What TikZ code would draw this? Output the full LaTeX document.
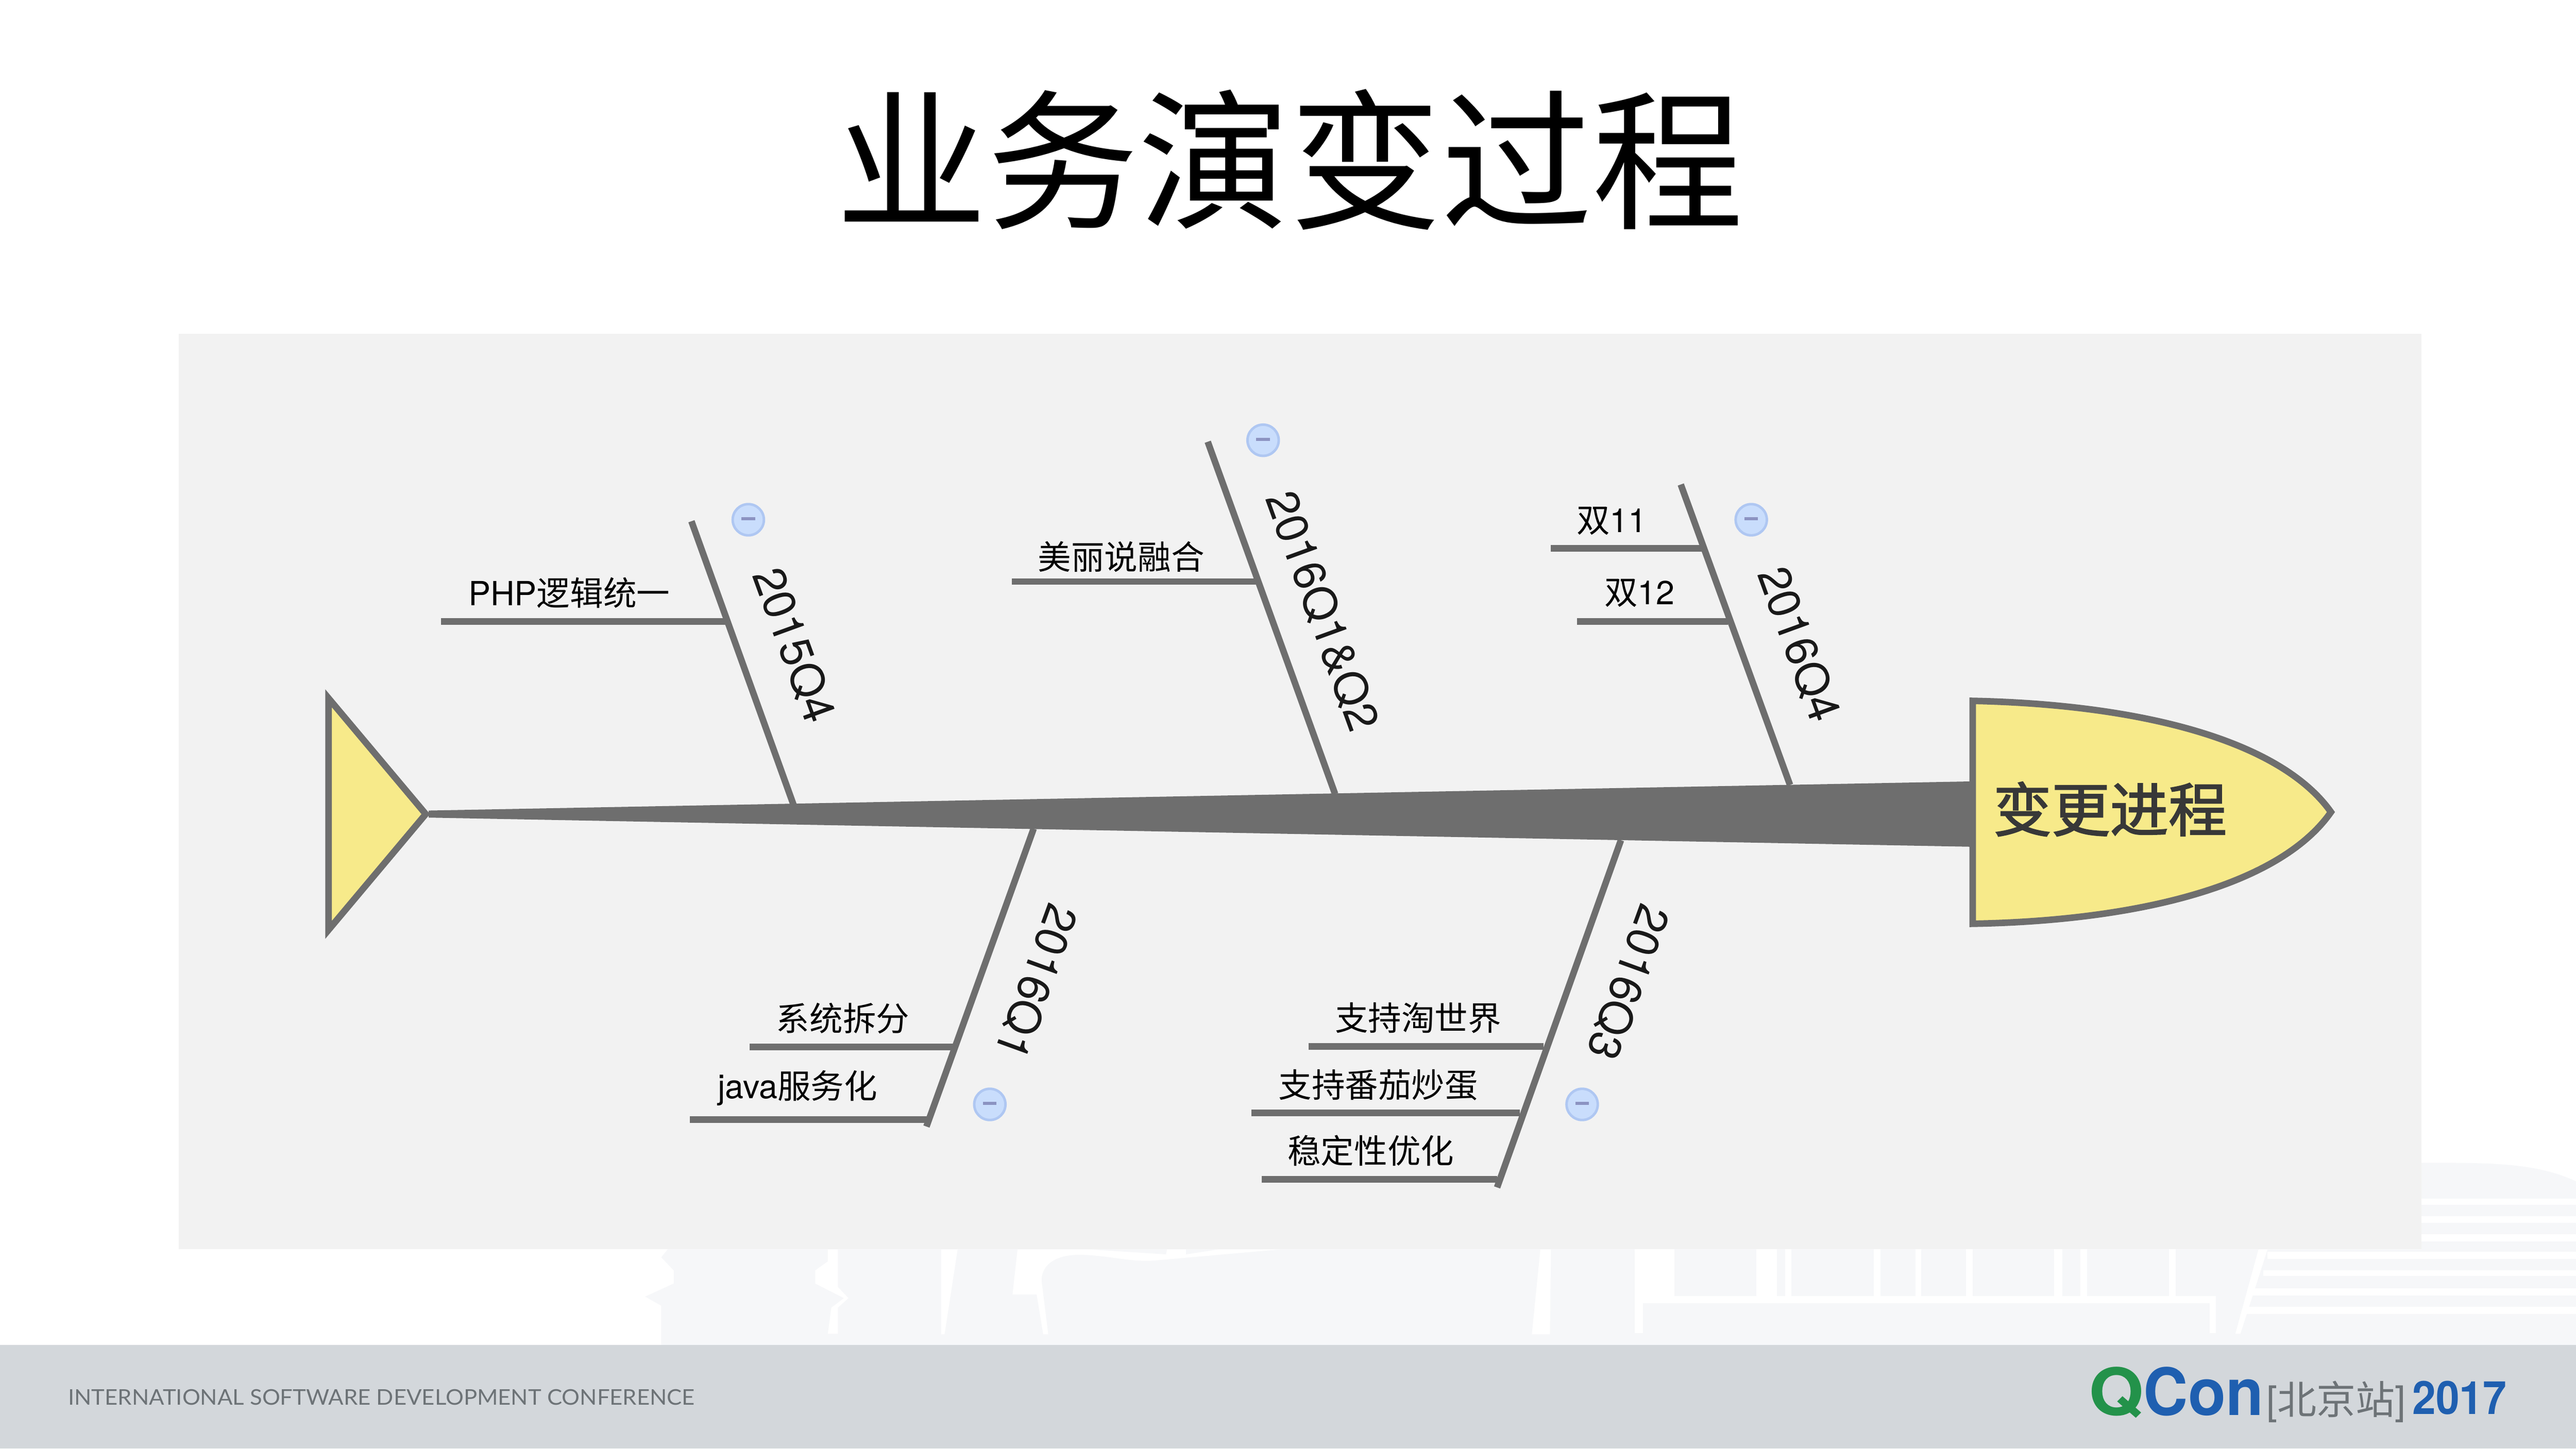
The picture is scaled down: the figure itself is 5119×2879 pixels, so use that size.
\documentclass[tikz,border=0pt]{standalone}
\usepackage{fontspec}
\setmainfont{TeX Gyre Heros}
\newfontfamily\cjk{Noto Sans CJK SC}
\newfontfamily\cjkmid[FakeBold=2]{Noto Sans CJK SC}
\newfontfamily\footfont{Lato}
\definecolor{panelgray}{HTML}{F2F2F2}
\definecolor{bonegray}{HTML}{6E6E6E}
\definecolor{fishyellow}{HTML}{F7EA8A}
\definecolor{faintgray}{HTML}{F6F7F9}
\definecolor{footgray}{HTML}{D3D7DB}
\definecolor{foottext}{HTML}{6D7377}
\definecolor{btnfill}{HTML}{C9DDFC}
\definecolor{btnline}{HTML}{AFC7F2}
\definecolor{btnminus}{HTML}{8C93C2}
\definecolor{qgreen}{HTML}{23924A}
\definecolor{conblue}{HTML}{1F5FB0}
\begin{document}
\begin{tikzpicture}
[x=0.01cm,y=-0.01cm,
  bonedecorate/.style={-,bonegray,line width=0.13cm},%
  twigdecorate/.style={-,bonegray,line width=0.13cm},%
  fishdecorate/.style={draw=bonegray,fill=fishyellow,line width=0.13cm,miter limit=10},%
  twiglabel/.style={inner sep=0pt,font=\fontsize{18.8}{20}\selectfont},%
  yearlabel/.style={inner sep=0pt,text=black!90,font=\fontsize{25.5}{28}\selectfont},%
  buttondecorate/.style={shape=circle,draw=btnline,fill=btnfill,line width=0.05cm,
    minimum size=0.62cm,inner sep=0pt},%
  logotext/.style={inner sep=0pt,anchor=base west}]
\useasboundingbox (0,0) rectangle (5119,2879);
%% backdrop behind the panel
\fill[white] (0,0) rectangle (5119,2879);
\fill[faintgray] (1327,2483) -- (1314,2499) -- (1339,2525) -- (1339,2551) -- (1282,2577)
  -- (1314,2595) -- (1314,2673) -- (5119,2673) -- (5119,2348)
  .. controls (5040,2311) and (4950,2311) .. (4812,2311) -- (4812,2483) -- cycle;
\fill[white] (1645,2483) -- (1665,2483) -- (1665,2558) -- (1686,2580) -- (1665,2599)
  -- (1665,2651) -- (1645,2651) -- (1652,2599) -- (1677,2580) -- (1620,2551)
  -- (1620,2525) -- (1645,2507) -- cycle;
\fill[white] (1870,2483) -- (1903,2483) -- (1877,2652) -- (1870,2652) -- cycle;
\fill[white] (2022,2483) -- (2012,2573) -- (2060,2573) -- (2073,2652) -- (2083,2652)
  -- (2070,2547) .. controls (2068,2520) and (2090,2494) .. (2144,2494)
  .. controls (2200,2494) and (2250,2510) .. (2297,2505) -- (2546,2483) -- cycle;
\fill[faintgray] (2163,2483) -- (2317,2493) -- (2319,2483) -- cycle;
\fill[faintgray] (2357,2483) -- (2357,2493) -- (2422,2483) -- cycle;
\fill[white] (3061,2483) -- (3082,2483) -- (3080,2652) -- (3044,2652) -- cycle;
\fill[white] (4488,2483) -- (4506,2483) -- (4452,2651) -- (4442,2651) -- cycle;
\fill[white] (3248,2483) rectangle (3265,2650);
\fill[white] (3248,2576) rectangle (4403,2590);
\fill[white] (4391,2576) rectangle (4403,2650);
\foreach \xa/\xb in {3248/3327, 3490/3531, 3547/3560, 3724/3737, 3806/3818,
  3907/3920, 4082/4098, 4134/4147, 4310/4323} {
  \fill[white] (\xa,2483) rectangle (\xb,2576);
}
\foreach \xa/\ya/\yb in {4506/2488/2502, 4497/2525/2536, 4475/2560/2575, 4465/2597/2612,
  4812/2382/2395, 4812/2417/2430, 4812/2453/2467} {
  \fill[white] (\xa,\ya) rectangle (5119,\yb);
}
\fill[panelgray] (355,663) rectangle (4812,2483);
\fill[footgray] (0,2673) rectangle (5119,2879);
%% title and footer
\node (title) at (2563,317) {\cjk\fontsize{85.5}{90}\selectfont 业务演变过程};
\node (slogan) at (758,2777) [inner sep=0pt,text=foottext]
  {\resizebox{12.44cm}{0.31cm}{\footfont INTERNATIONAL SOFTWARE DEVELOPMENT CONFERENCE}};
\node (logoq) at (4150,2813) [logotext,text=qgreen]
  {\resizebox{1.09cm}{0.96cm}{\bfseries Q}};
\node (logocon) at (4259,2813) [logotext,text=conblue]
  {\resizebox{2.38cm}{0.96cm}{\bfseries Con}};
\node (logocity) at (4503,2811) [logotext,text=foottext]
  {\resizebox{2.77cm}{!}{[{\cjk 北京站}]}};
\node (logoyear) at (4793,2811) [logotext,text=conblue]
  {\resizebox{1.87cm}{0.66cm}{\bfseries 2017}};
%% fish body
\coordinate (tailtop) at (653,1388);
\coordinate (tailtip) at (846,1618);
\coordinate (tailbot) at (653,1848);
\coordinate (spinestarta) at (852,1611);
\coordinate (spinestartb) at (852,1625);
\coordinate (spinetop) at (3920,1553);
\coordinate (spinebot) at (3920,1683);
\coordinate (headtop) at (3920,1393);
\coordinate (headtip) at (4632,1614);
\coordinate (headbot) at (3920,1836);
\fill[bonegray] (spinestarta) -- (spinetop) -- (spinebot) -- (spinestartb) -- cycle;
%% big bones, with year label and fold button
\foreach \nodename/\xa/\ya/\xb/\yb/\xlab/\ylab/\turn/\labeltext/\xbtn/\ybtn in {
  qa/1374/1036/1577/1600/1578/1282/-70/2015Q4/1487/1033,
  qb/2400/878/2653/1578/2628/1214/-70/2016Q1\&Q2/2510/875,
  qc/3340/963/3557/1560/3575/1280/-70/2016Q4/3480/1033,
  qd/2054/1647/1841/2239/2060/1952/-110/2016Q1/1967/2195,
  qe/3221/1670/2975/2360/3236/1953/-110/2016Q3/3144/2195} {
  \coordinate (\nodename top) at (\xa,\ya);
  \coordinate (\nodename foot) at (\xb,\yb);
  \node (\nodename label) at (\xlab,\ylab) [yearlabel,rotate=\turn] {\labeltext};
  \node (\nodename btn) at (\xbtn,\ybtn) [buttondecorate]
    {\textcolor{btnminus}{\rule[0.22ex]{0.27cm}{0.06cm}}};
}
\path
\foreach \startnode/\endnode in {qatop/qafoot, qbtop/qbfoot, qctop/qcfoot, qdtop/qdfoot, qetop/qefoot} {
  (\startnode) edge[bonedecorate] (\endnode)
};
%% small bones and their texts
\foreach \nodename/\xa/\xb/\y/\xlab/\ylab/\labeltext in {
  php/876/1441/1235/1131/1178/PHP{\cjk 逻辑统一},
  meili/2011/2496/1156/2228/1107/{\cjk 美丽说融合},
  eleven/3082/3383/1090/3203/1035/{\cjk 双}11,
  twelve/3134/3434/1235/3258/1179/{\cjk 双}12,
  split/1490/1897/2081/1675/2024/{\cjk 系统拆分},
  java/1371/1845/2225/1585/2163/java{\cjk 服务化},
  taoworld/2600/3067/2080/2818/2023/{\cjk 支持淘世界},
  fanqie/2487/3020/2212/2739/2156/{\cjk 支持番茄炒蛋},
  stable/2507/2975/2344/2724/2287/{\cjk 稳定性优化}} {
  \coordinate (\nodename left) at (\xa,\y);
  \coordinate (\nodename right) at (\xb,\y);
  \draw[twigdecorate] (\nodename left) -- (\nodename right);
  \node (\nodename) at (\xlab,\ylab) [twiglabel] {\labeltext};
}
%% tail and head
\draw[fishdecorate] (tailtop) -- (tailtip) -- (tailbot) -- cycle;
\draw[fishdecorate] (headtop) .. controls (4250,1400) and (4530,1470) .. (headtip)
  .. controls (4530,1760) and (4250,1830) .. (headbot) -- cycle;
\node (headtext) at (4193,1608) [inner sep=0pt,text=black!78]
  {\cjkmid\fontsize{33}{36}\selectfont 变更进程};
\end{tikzpicture}
\end{document}
